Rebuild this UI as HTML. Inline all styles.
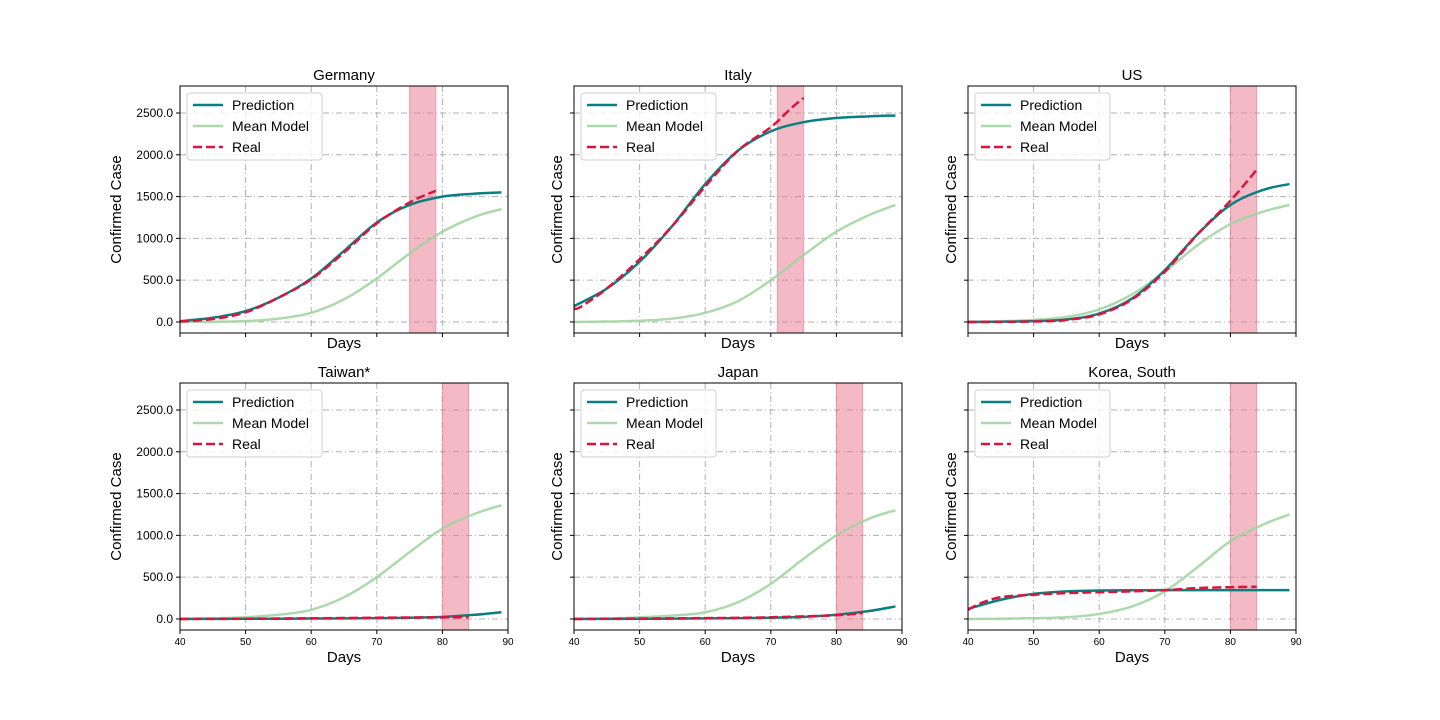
<!DOCTYPE html>
<html><head><meta charset="utf-8"><style>
html,body{margin:0;padding:0;background:#fff;}
svg{display:block;font-family:"Liberation Sans","DejaVu Sans",sans-serif;}
</style></head><body>
<svg id="fig" width="1440" height="720" viewBox="0 0 1440 720" xmlns="http://www.w3.org/2000/svg"></svg>
<script>
const countries = ["Germany","Italy","US","Taiwan*","Japan","Korea, South"];
const shadeStart = [75, 71, 80, 80, 80, 80];
const shadeEnd = [79, 75, 84, 84, 84, 84];
const days = [40,45,50,55,60,65,70,75,80,85,89];
const predGermany = [10,50,130,290,520,850,1190,1400,1500,1535,1550];
const predItaly = [190,400,720,1150,1650,2050,2280,2390,2440,2460,2470];
const predUS = [0,3,10,30,100,280,620,1050,1400,1580,1650];
const predTaiwan = [0,1,2,3,5,7,10,15,25,50,80];
const predJapan = [0,1,2,4,7,10,15,25,50,95,150];
const predKorea = [120,230,300,330,340,343,345,345,345,345,345];
const meanGermany = [0,3,10,40,110,270,520,820,1080,1260,1350];
const meanItaly = [0,5,15,40,110,250,500,800,1080,1280,1400];
const meanUS = [0,8,25,60,150,330,600,920,1170,1320,1400];
const meanTaiwan = [0,7,20,50,110,260,500,800,1080,1260,1360];
const meanJapan = [0,5,20,40,80,200,420,720,1000,1200,1300];
const meanKorea = [0,3,10,20,60,150,330,620,930,1130,1250];
const realDaysGermany = [40,45,50,55,60,65,70,75,79];
const realGermany = [5,35,115,290,510,830,1180,1430,1570];
const realDaysItaly = [40,41,45,50,55,60,65,70,73,75];
const realItaly = [160,180,400,750,1150,1620,2050,2330,2550,2680];
const realDaysUS = [40,50,55,60,65,70,75,80,84];
const realUS = [0,5,25,90,270,600,1050,1450,1820];
const realDaysTaiwan = [40,50,60,70,80,84];
const realTaiwan = [0,3,8,15,20,22];
const realDaysJapan = [40,50,60,70,80,84];
const realJapan = [0,5,10,20,45,70];
const realDaysKorea = [40,42,45,50,55,60,65,70,75,80,84];
const realKorea = [110,190,260,290,310,320,330,345,370,380,385];
const xTicks = [40,50,60,70,80,90];
const yTicks = [0,500,1000,1500,2000,2500];

const preds=[predGermany,predItaly,predUS,predTaiwan,predJapan,predKorea];
const means=[meanGermany,meanItaly,meanUS,meanTaiwan,meanJapan,meanKorea];
const realDs=[realDaysGermany,realDaysItaly,realDaysUS,realDaysTaiwan,realDaysJapan,realDaysKorea];
const reals=[realGermany,realItaly,realUS,realTaiwan,realJapan,realKorea];

const NS="http://www.w3.org/2000/svg";
const fig=document.getElementById('fig');
function mk(tag,attrs,parent){const e=document.createElementNS(NS,tag);for(const k in attrs)e.setAttribute(k,attrs[k]);(parent||fig).appendChild(e);return e;}
const colX=[180,574,968], rowY=[86,383], W=328, H=247;
const XMIN=40,XMAX=90,YMIN=-132,YMAX=2823;

function smooth(pts){
  let d="M"+pts[0][0]+","+pts[0][1];
  for(let i=0;i<pts.length-1;i++){
    const p0=pts[Math.max(0,i-1)],p1=pts[i],p2=pts[i+1],p3=pts[Math.min(pts.length-1,i+2)];
    const c1=[p1[0]+(p2[0]-p0[0])/6,p1[1]+(p2[1]-p0[1])/6];
    const c2=[p2[0]-(p3[0]-p1[0])/6,p2[1]-(p3[1]-p1[1])/6];
    d+=" C"+c1[0].toFixed(2)+","+c1[1].toFixed(2)+" "+c2[0].toFixed(2)+","+c2[1].toFixed(2)+" "+p2[0].toFixed(2)+","+p2[1].toFixed(2);
  }
  return d;
}

for(let i=0;i<6;i++){
  const r=Math.floor(i/3),c=i%3;
  const x0=colX[c],y0=rowY[r];
  const sx=v=>x0+(v-XMIN)/(XMAX-XMIN)*W;
  const sy=v=>y0+H-(v-YMIN)/(YMAX-YMIN)*H;
  const g=mk('g',{});
  
  
  xTicks.forEach(t=>{ if(t>XMIN&&t<XMAX){const l=mk('line',{x1:sx(t),x2:sx(t),y1:y0,y2:y0+H,stroke:'#b0b0b0','stroke-width':1,'stroke-dasharray':'6,3,1,3'},g);
    }});
  yTicks.forEach(t=>{const l=mk('line',{x1:x0,x2:x0+W,y1:sy(t),y2:sy(t),stroke:'#b0b0b0','stroke-width':1,'stroke-dasharray':'6,3,1,3'},g);
    });
  const sh=mk('rect',{x:sx(shadeStart[i]),y:y0,width:sx(shadeEnd[i])-sx(shadeStart[i]),height:H,fill:'#e8738c','fill-opacity':0.5,stroke:'#e8738c','stroke-opacity':0.6},g);
  
  const mp=mk('path',{d:smooth(days.map((d,k)=>[sx(d),sy(means[i][k])])),fill:'none',stroke:'#9fd39f','stroke-opacity':0.85,'stroke-width':2.5},g);
  
  const pp=mk('path',{d:smooth(days.map((d,k)=>[sx(d),sy(preds[i][k])])),fill:'none',stroke:'#0a7f80','stroke-width':2.5},g);
  
  const rp=mk('path',{d:smooth(realDs[i].map((d,k)=>[sx(d),sy(reals[i][k])])),fill:'none',stroke:'#dc143c','stroke-width':2.5,'stroke-dasharray':'9,4'},g);
  
  const fr=mk('rect',{x:x0,y:y0,width:W,height:H,fill:'none',stroke:'#000','stroke-width':1},g);
  
  xTicks.forEach(t=>{mk('line',{x1:sx(t),x2:sx(t),y1:y0+H,y2:y0+H+4,stroke:'#000'},g);
    if(r===1){const tx=mk('text',{x:sx(t),y:y0+H+15,'font-size':10,'text-anchor':'middle',fill:'#000'},g);tx.textContent=t;
      }});
  yTicks.forEach(t=>{mk('line',{x1:x0-4,x2:x0,y1:sy(t),y2:sy(t),stroke:'#000'},g);
    if(c===0){const tx=mk('text',{x:x0-7,y:sy(t)+4,'font-size':12,'text-anchor':'end',fill:'#000'},g);tx.textContent=t.toFixed(1);
      }});
  const ti=mk('text',{x:x0+W/2,y:y0-6,'font-size':15,'text-anchor':'middle',fill:'#000'},g);ti.textContent=countries[i];
  
  const xl=mk('text',{x:x0+W/2,y:y0+H+(r===1?32:15),'font-size':15,'text-anchor':'middle',fill:'#000'},g);xl.textContent='Days';
  
  const lx=c===0?121:x0-12;
  const yl=mk('text',{x:lx,y:y0+H/2,'font-size':15,'text-anchor':'middle',fill:'#000',transform:'rotate(-90 '+lx+' '+(y0+H/2)+')'},g);yl.textContent='Confirmed Case';
  
  const lg=mk('g',{},g);
  
  mk('rect',{x:x0+7,y:y0+7,width:135,height:67,rx:3,fill:'#fff','fill-opacity':0.8,stroke:'#d0d0d0'},lg);
  const items=[['Prediction','#0a7f80',null,1],['Mean Model','#9fd39f',null,0.85],['Real','#dc143c','9,4',1]];
  items.forEach((it,k)=>{const yy=y0+19+k*21;
    const ln=mk('line',{x1:x0+13,x2:x0+43,y1:yy,y2:yy,stroke:it[1],'stroke-width':2.5,'stroke-opacity':it[3]},lg);
    if(it[2])ln.setAttribute('stroke-dasharray',it[2]);
    const t=mk('text',{x:x0+52,y:yy+5,'font-size':14,fill:'#000'},lg);t.textContent=it[0];
    });
}
</script>
</body></html>
